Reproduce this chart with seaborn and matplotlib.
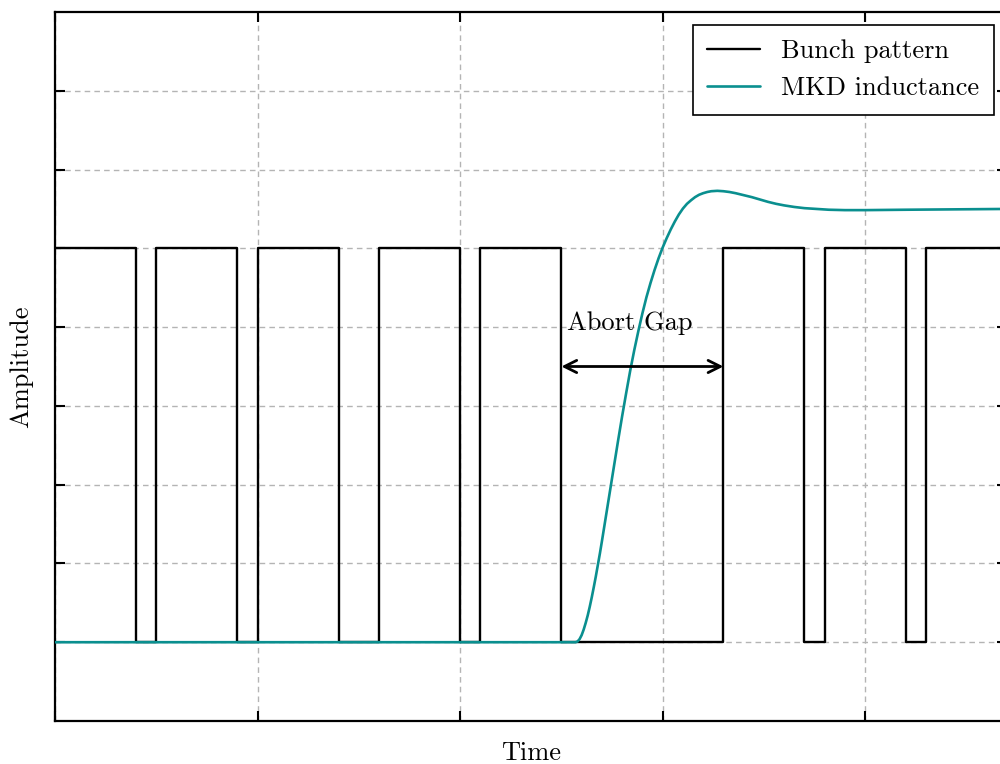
import numpy as np
import pandas as pd
import seaborn as sns
from matplotlib import pyplot as plt

# bunch pattern: edges of the steps (time units) and level after each edge
bunch_t = [0.0, 0.4, 0.5, 0.9, 1.0, 1.4, 1.6, 2.0, 2.1, 2.5, 3.3, 3.7, 3.8, 4.2, 4.3, 4.7]
bunch_y = [1, 0, 1, 0, 1, 0, 1, 0, 1, 0, 1, 0, 1, 0, 1, 1]

# MKD inductance
mkd_t = [0.0, 2.57, 2.58, 2.59, 2.60, 2.61, 2.62, 2.63, 2.64, 2.65, 2.66, 2.67,
         2.68, 2.69, 2.70, 2.72, 2.74, 2.76, 2.78, 2.80, 2.82, 2.84, 2.86, 2.88,
         2.90, 2.92, 2.94, 2.96, 2.98, 3.00, 3.02, 3.04, 3.06, 3.08, 3.10, 3.12,
         3.14, 3.16, 3.18, 3.20, 3.22, 3.24, 3.27, 3.30, 3.33, 3.36, 3.40, 3.44,
         3.48, 3.52, 3.56, 3.60, 3.65, 3.70, 3.76, 3.82, 3.90, 4.00, 4.20, 4.45, 4.70]
mkd_y = [0.0, 0.0, 0.002, 0.008, 0.018, 0.032, 0.049, 0.068, 0.090, 0.114, 0.140, 0.167,
         0.196, 0.225, 0.256, 0.320, 0.384, 0.448, 0.512, 0.574, 0.633, 0.690, 0.742, 0.790,
         0.835, 0.876, 0.912, 0.945, 0.975, 1.002, 1.026, 1.048, 1.068, 1.086, 1.101, 1.113,
         1.122, 1.130, 1.136, 1.140, 1.143, 1.145, 1.146, 1.145, 1.143, 1.140, 1.135, 1.130,
         1.124, 1.118, 1.113, 1.109, 1.105, 1.102, 1.100, 1.098, 1.097, 1.097, 1.098, 1.099, 1.100]

gap_start, gap_end, gap_level = 2.5, 3.3, 0.70
x_ticks = [0, 1, 2, 3, 4]
y_ticks = [0.0, 0.2, 0.4, 0.6, 0.8, 1.0, 1.2, 1.4]

sns.set_style("ticks")
plt.rcParams['font.family'] = 'serif'
plt.rcParams['font.serif'] = ['cmr10', 'DejaVu Serif']
plt.rcParams['axes.formatter.use_mathtext'] = True
plt.rcParams['font.size'] = 19
plt.rcParams['text.color'] = 'black'
plt.rcParams['axes.labelcolor'] = 'black'

teal = '#0a8f8f'

fig = plt.figure(figsize=(10, 7.64), dpi=100)
ax = fig.add_axes([0.055, 43 / 764, 0.952, 709 / 764])

bunch_df = pd.DataFrame({'t': bunch_t, 'y': bunch_y})
mkd_df = pd.DataFrame({'t': mkd_t, 'y': mkd_y})

sns.lineplot(data=bunch_df, x='t', y='y', ax=ax, color='black', lw=1.7,
             drawstyle='steps-post', sort=False, estimator=None,
             label='Bunch pattern', zorder=3)
sns.lineplot(data=mkd_df, x='t', y='y', ax=ax, color=teal, lw=1.9,
             sort=False, estimator=None, label='MKD inductance', zorder=4)

ax.annotate('', xy=(gap_start, gap_level), xytext=(gap_end, gap_level),
            arrowprops=dict(arrowstyle='<->', lw=2, color='black',
                            shrinkA=0, shrinkB=0, mutation_scale=22), zorder=5)
ax.text(gap_start + 0.028, 0.793, 'Abort Gap', ha='left', va='baseline', fontsize=19)

ax.set_xlim(0, 4.7)
ax.set_ylim(-0.2, 1.6)
ax.set_xticks(x_ticks)
ax.set_yticks(y_ticks)
ax.set_xticklabels([])
ax.set_yticklabels([])
ax.tick_params(direction='in', length=7, width=1.5, top=True, right=True,
               bottom=True, left=True, color='black')
ax.grid(True, color='#b4b4b4', linestyle=(0, (4, 3)), lw=1)
for s in ax.spines.values():
    s.set_linewidth(1.6)
    s.set_color('black')

ax.set_xlabel('Time', labelpad=11)
ax.set_ylabel('Amplitude', labelpad=12)

leg = ax.legend(loc='upper right', fancybox=False, framealpha=1, edgecolor='black',
                borderpad=0.55)
leg.get_frame().set_linewidth(1.2)

fig.savefig('out.png', dpi=100, facecolor='w')
